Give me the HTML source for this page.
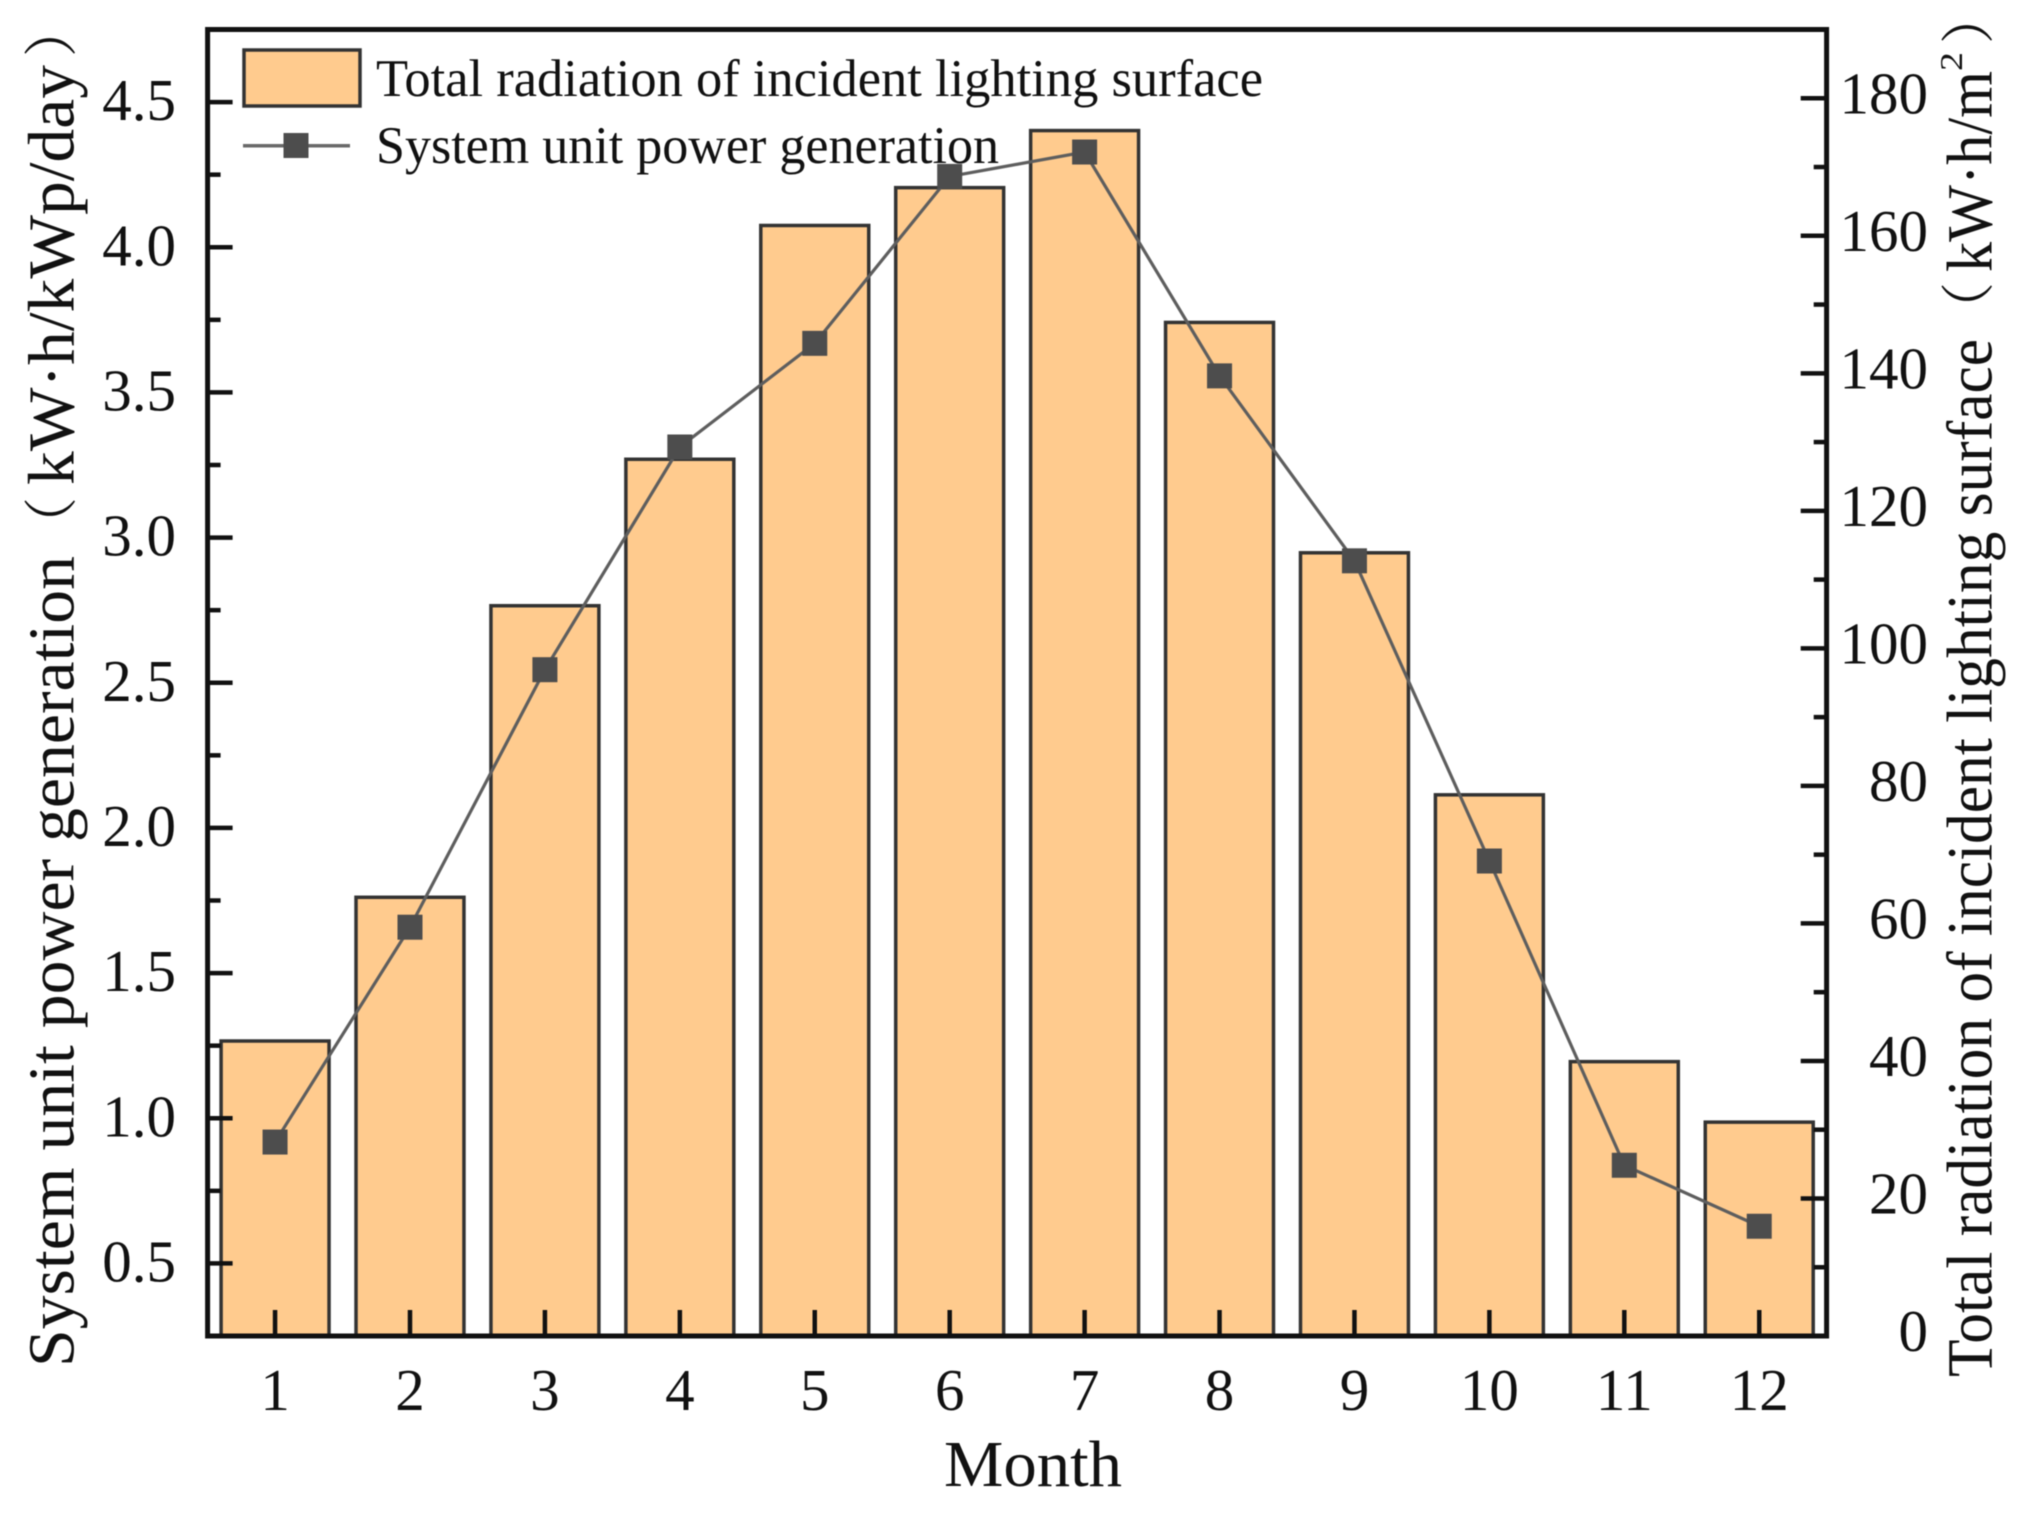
<!DOCTYPE html>
<html lang="en">
<head>
<meta charset="utf-8">
<title>Monthly radiation and power generation</title>
<style>
html,body{margin:0;padding:0;background:#fff;}
svg{display:block;filter:blur(0.5px);}
text{font-family:"Liberation Serif","Noto Serif CJK SC",serif;fill:#111;}
</style>
</head>
<body>
<svg id="chart" xmlns="http://www.w3.org/2000/svg" width="2030" height="1517" viewBox="0 0 2030 1517">
  <rect x="0" y="0" width="2030" height="1517" fill="#ffffff"/>
  <g id="bars"></g>
  <g id="series"></g>
  <g id="ticks"></g>
  <rect x="207.6" y="29.5" width="1619" height="1306.5" fill="none" stroke="#111" stroke-width="5"/>
  <g id="labels"></g>

  <text x="944" y="1486" font-size="66" textLength="178" lengthAdjust="spacingAndGlyphs">Month</text>

  <g>
    <text transform="translate(73.5,1367) rotate(-90)" font-size="66" textLength="811" lengthAdjust="spacingAndGlyphs">System unit power generation</text>
    <text transform="translate(70,551) rotate(-90)" font-size="54">（</text>
    <text transform="translate(73.5,485) rotate(-90)" font-size="66" textLength="420" lengthAdjust="spacingAndGlyphs">kW·h/kWp/day</text>
    <text transform="translate(70,57) rotate(-90)" font-size="54">）</text>
  </g>

  <g>
    <text transform="translate(1991.7,1377) rotate(-90)" font-size="65" textLength="1038" lengthAdjust="spacingAndGlyphs">Total radiation of incident lighting surface</text>
    <text transform="translate(1987,336) rotate(-90)" font-size="54">（</text>
    <text transform="translate(1991.7,272) rotate(-90)" font-size="65" textLength="201" lengthAdjust="spacingAndGlyphs">kW·h/m</text>
    <text transform="translate(1962,71) rotate(-90)" font-size="32" textLength="19" lengthAdjust="spacingAndGlyphs">2</text>
    <text transform="translate(1987,44) rotate(-90)" font-size="54">）</text>
  </g>

  <g>
    <rect x="244" y="50" width="116" height="56" fill="#FFCB8E" stroke="#333" stroke-width="3.5"/>
    <text x="376" y="96" font-size="53" textLength="887" lengthAdjust="spacingAndGlyphs">Total radiation of incident lighting surface</text>
    <line x1="243" y1="145.7" x2="350" y2="145.7" stroke="#6a6a6a" stroke-width="3.5"/>
    <rect x="283.5" y="133" width="25" height="25" fill="#4d4d4d"/>
    <text x="376" y="163" font-size="53" textLength="623" lengthAdjust="spacingAndGlyphs">System unit power generation</text>
  </g>
</svg>
<script>
var months = ["1","2","3","4","5","6","7","8","9","10","11","12"];
var radiation = [42.9,63.8,106.2,127.5,161.5,167,175.3,147.4,113.9,78.7,39.9,31.1];
var power = [0.918,1.658,2.545,3.312,3.669,4.244,4.328,3.557,2.920,1.886,0.838,0.628];
var leftTickLabels = ["0.5","1.0","1.5","2.0","2.5","3.0","3.5","4.0","4.5"];
var rightTickLabels = ["0","20","40","60","80","100","120","140","160","180"];
var leftMinorTicks = [0.75,1.25,1.75,2.25,2.75,3.25,3.75,4.25];
var rightMinorTicks = [10,30,50,70,90,110,130,150,170];

var NS = "http://www.w3.org/2000/svg";
var plot = {left:207.6, right:1826.7, top:29.5, bottom:1336};
function xScale(i){ return plot.left + (i + 0.5) / 12 * (plot.right - plot.left); }
function yLeft(v){ return plot.bottom - (v - 0.25) / 4.5 * (plot.bottom - plot.top); }
function yRight(v){ return plot.bottom - v / 190 * (plot.bottom - plot.top); }
function make(tag, parent, attrs){
  var el = document.createElementNS(NS, tag);
  for (var k in attrs) el.setAttribute(k, attrs[k]);
  parent.appendChild(el);
  return el;
}
var gBars = document.getElementById("bars");
var gSeries = document.getElementById("series");
var gTicks = document.getElementById("ticks");
var gLabels = document.getElementById("labels");
var barW = 0.8 * (plot.right - plot.left) / 12;

radiation.forEach(function(v, i){
  var y = yRight(v);
  var el = make("rect", gBars, {x:xScale(i) - barW/2, y:y, width:barW, height:plot.bottom - y, fill:"#FFCB8E", stroke:"#333", "stroke-width":3.5});
  
  
});

var pts = power.map(function(v, i){ return xScale(i) + "," + yLeft(v); }).join(" ");
var line = make("polyline", gSeries, {points:pts, fill:"none", stroke:"#5e5e5e", "stroke-width":3.2});


power.forEach(function(v, i){
  var s = 25;
  var el = make("rect", gSeries, {x:xScale(i) - s/2, y:yLeft(v) - s/2, width:s, height:s, fill:"#4d4d4d"});
  
  
});

months.forEach(function(m, i){
  var t = make("line", gTicks, {x1:xScale(i), x2:xScale(i), y1:plot.bottom, y2:plot.bottom - 26, stroke:"#111", "stroke-width":4.5});
  
  
  var l = make("text", gLabels, {x:xScale(i), y:1410, "font-size":59, "text-anchor":"middle"});
  l.textContent = m;
  
  
});

leftTickLabels.forEach(function(s){
  var y = yLeft(parseFloat(s));
  var t = make("line", gTicks, {x1:plot.left, x2:plot.left + 25, y1:y, y2:y, stroke:"#111", "stroke-width":4.5});
  
  
  var l = make("text", gLabels, {x:176, y:y + 18, "font-size":59, "text-anchor":"end"});
  l.textContent = s;
  
  
});
leftMinorTicks.forEach(function(v){
  var y = yLeft(v);
  var t = make("line", gTicks, {x1:plot.left, x2:plot.left + 13, y1:y, y2:y, stroke:"#111", "stroke-width":4.5});
  
  
});

rightTickLabels.forEach(function(s){
  var y = yRight(parseFloat(s));
  var t = make("line", gTicks, {x1:plot.right, x2:plot.right - 26, y1:y, y2:y, stroke:"#111", "stroke-width":4.5});
  
  
  var l = make("text", gLabels, {x:1928, y:y + 15, "font-size":59, "text-anchor":"end"});
  l.textContent = s;
  
  
});
rightMinorTicks.forEach(function(v){
  var y = yRight(v);
  var t = make("line", gTicks, {x1:plot.right, x2:plot.right - 13, y1:y, y2:y, stroke:"#111", "stroke-width":4.5});
  
  
});
</script>
</body>
</html>
